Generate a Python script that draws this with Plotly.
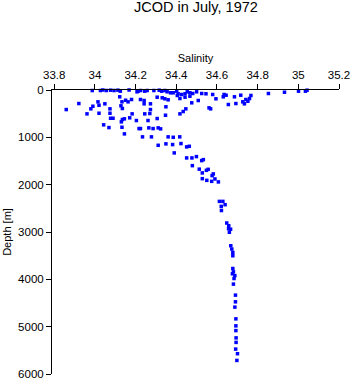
import plotly.graph_objects as go

salinity = [
    33.987, 34.027, 34.039, 34.056, 34.077, 34.094, 34.113, 34.125, 34.168, 34.207,
    34.212, 34.225, 34.245, 34.257, 34.290, 34.316, 34.328, 34.344, 34.355, 34.372,
    34.385, 34.402, 34.409, 34.426, 34.443, 34.454, 34.467, 34.481, 34.500, 34.525,
    34.546, 34.579, 34.595, 34.635, 34.645, 34.631, 34.686, 34.717, 34.656, 34.693,
    34.727, 34.735, 34.742, 34.752, 34.760, 34.767, 34.853, 34.932, 35.001, 35.035,
    35.043, 34.569,
    34.122, 34.133, 34.151, 34.163, 34.180, 33.921, 34.015, 34.020, 34.049, 34.128,
    34.135, 33.990, 33.980, 33.859, 33.961, 34.020, 34.074, 34.074, 34.077, 34.089,
    34.135, 34.145, 34.171, 34.183, 34.204, 34.043, 34.069, 34.130, 34.133, 34.217,
    34.145,
    34.224, 34.242, 34.242, 34.273, 34.306, 34.331, 34.344, 34.360, 34.405, 34.418,
    34.443, 34.467, 34.476, 34.508, 34.273, 34.270, 34.245, 34.349, 34.347, 34.306,
    34.418, 34.434, 34.447, 34.561, 34.261, 34.224, 34.265, 34.286, 34.311, 34.323,
    34.234, 34.278, 34.360, 34.385, 34.417,
    34.311, 34.349, 34.382, 34.423, 34.451, 34.464, 34.390, 34.451, 34.477, 34.499,
    34.525, 34.533, 34.479, 34.513, 34.528, 34.548, 34.557, 34.582, 34.576, 34.528,
    34.550, 34.574, 34.590, 34.607,
    34.612, 34.629, 34.640, 34.621, 34.622, 34.648, 34.658, 34.657, 34.667, 34.661,
    34.668, 34.673, 34.678, 34.678, 34.678, 34.681, 34.676, 34.688, 34.684, 34.681,
    34.691, 34.691, 34.688, 34.693, 34.693, 34.693, 34.694, 34.694, 34.692, 34.701,
    34.698,
]

depth = [
    11, 11, 0, 11, 4, 11, 4, 25, 0, 38,
    25, 11, 25, 11, 11, 4, 25, 11, 38, 59,
    59, 25, 80, 95, 80, 38, 59, 74, 38, 74,
    80, 95, 186, 95, 110, 144, 144, 110, 307, 286,
    250, 292, 201, 237, 180, 116, 74, 47, 25, 25,
    4, 398,
    144, 250, 216, 250, 201, 286, 250, 322, 292, 334,
    391, 343, 398, 413, 504, 491, 398, 491, 597, 597,
    624, 609, 588, 504, 645, 736, 794, 673, 787, 815,
    927,
    201, 222, 292, 292, 152, 165, 186, 207, 116, 180,
    152, 131, 271, 222, 413, 497, 504, 355, 533, 603,
    504, 455, 398, 377, 645, 815, 800, 815, 800, 821,
    990, 990, 990, 999, 990,
    1168, 1138, 1153, 1132, 1202, 1189, 1329, 1435, 1435, 1407,
    1492, 1471, 1598, 1672, 1752, 1697, 1676, 1773, 1809, 1873,
    1909, 1930, 1879, 1942,
    2353, 2353, 2423, 2459, 2546, 2810, 2867, 2931, 2941, 3005,
    3290, 3360, 3432, 3502, 3771, 3841, 3883, 3921, 3983, 4101,
    4334, 4475, 4587, 4835, 4983, 5083, 5237, 5332, 5474, 5571,
    5713,
]

x_ticks = [33.8, 34, 34.2, 34.4, 34.6, 34.8, 35, 35.2]
x_tick_text = ["33.8", "34", "34.2", "34.4", "34.6", "34.8", "35", "35.2"]
y_ticks = [0, 1000, 2000, 3000, 4000, 5000, 6000]

FONT = "Liberation Sans, Arial, sans-serif"

fig = go.Figure(
    go.Scatter(
        x=salinity,
        y=depth,
        mode="markers",
        marker=dict(symbol="square", size=3.5, color="#0000ff", line=dict(width=0)),
        cliponaxis=False,
        showlegend=False,
    )
)

fig.update_layout(
    width=353,
    height=384,
    margin=dict(l=52, r=14, t=90, b=10),
    paper_bgcolor="white",
    plot_bgcolor="white",
    font=dict(family=FONT, size=11.5, color="black"),
    title=dict(
        text="JCOD in July, 1972",
        x=0.555,
        xanchor="center",
        y=0.995,
        yanchor="top",
        font=dict(family=FONT, size=14.5, color="black"),
    ),
    xaxis=dict(
        side="top",
        range=[33.789, 35.2],
        tickvals=x_ticks,
        ticktext=x_tick_text,
        ticks="outside",
        ticklen=5,
        tickcolor="black",
        showline=True,
        linecolor="black",
        linewidth=1,
        showgrid=False,
        zeroline=False,
        automargin=False,
        title=dict(text="Salinity", standoff=4, font=dict(size=11)),
    ),
    yaxis=dict(
        range=[6000, 0],
        tickvals=y_ticks,
        ticks="outside",
        ticklen=5,
        tickcolor="black",
        showline=True,
        linecolor="black",
        linewidth=1,
        showgrid=False,
        zeroline=False,
        automargin=False,
        title=dict(text="Depth [m]", standoff=4, font=dict(size=11)),
    ),
)

fig.write_html("out.html")
